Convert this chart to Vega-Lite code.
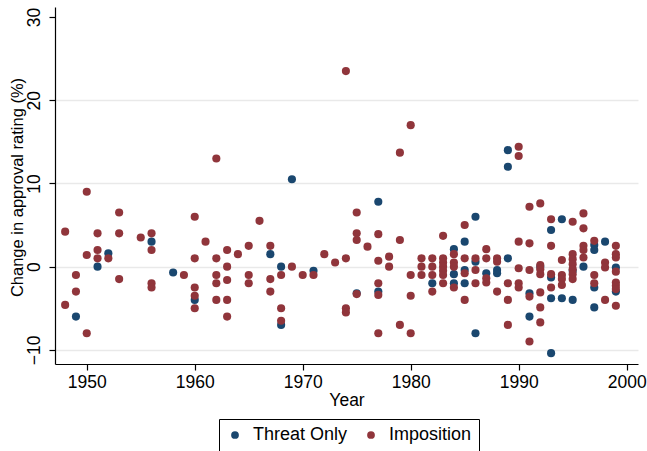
{
  "$schema": "https://vega.github.io/schema/vega-lite/v6.json",
  "width": 583,
  "height": 357,
  "autosize": {"type": "none"},
  "padding": {"left": 55, "top": 7, "right": 9, "bottom": 87},
  "background": "white",
  "config": {
    "view": {"stroke": null},
    "font": "Liberation Sans"
  },
  "data": {
    "values": [
      {"year": 1949, "change": -6, "type": "Threat Only"},
      {"year": 1951, "change": 0, "type": "Threat Only"},
      {"year": 1952, "change": 1.6, "type": "Threat Only"},
      {"year": 1956, "change": 3, "type": "Threat Only"},
      {"year": 1958, "change": -0.7, "type": "Threat Only"},
      {"year": 1960, "change": -4, "type": "Threat Only"},
      {"year": 1967, "change": 1.5, "type": "Threat Only"},
      {"year": 1968, "change": 0, "type": "Threat Only"},
      {"year": 1968, "change": -7, "type": "Threat Only"},
      {"year": 1969, "change": 10.5, "type": "Threat Only"},
      {"year": 1971, "change": -0.5, "type": "Threat Only"},
      {"year": 1975, "change": -3.2, "type": "Threat Only"},
      {"year": 1977, "change": 7.8, "type": "Threat Only"},
      {"year": 1977, "change": -3, "type": "Threat Only"},
      {"year": 1982, "change": -2, "type": "Threat Only"},
      {"year": 1984, "change": 2.1, "type": "Threat Only"},
      {"year": 1984, "change": -0.9, "type": "Threat Only"},
      {"year": 1984, "change": -2, "type": "Threat Only"},
      {"year": 1985, "change": 3, "type": "Threat Only"},
      {"year": 1985, "change": -0.4, "type": "Threat Only"},
      {"year": 1985, "change": -2, "type": "Threat Only"},
      {"year": 1986, "change": 6, "type": "Threat Only"},
      {"year": 1986, "change": 0.6, "type": "Threat Only"},
      {"year": 1986, "change": -8, "type": "Threat Only"},
      {"year": 1987, "change": -0.8, "type": "Threat Only"},
      {"year": 1988, "change": -0.4, "type": "Threat Only"},
      {"year": 1988, "change": -0.8, "type": "Threat Only"},
      {"year": 1989, "change": 14, "type": "Threat Only"},
      {"year": 1989, "change": 12, "type": "Threat Only"},
      {"year": 1989, "change": 1, "type": "Threat Only"},
      {"year": 1991, "change": -6, "type": "Threat Only"},
      {"year": 1991, "change": -3.2, "type": "Threat Only"},
      {"year": 1992, "change": 0, "type": "Threat Only"},
      {"year": 1993, "change": 4.4, "type": "Threat Only"},
      {"year": 1993, "change": -1.3, "type": "Threat Only"},
      {"year": 1993, "change": -3.8, "type": "Threat Only"},
      {"year": 1993, "change": -10.4, "type": "Threat Only"},
      {"year": 1994, "change": 5.7, "type": "Threat Only"},
      {"year": 1994, "change": -3.8, "type": "Threat Only"},
      {"year": 1995, "change": -0.5, "type": "Threat Only"},
      {"year": 1995, "change": -4, "type": "Threat Only"},
      {"year": 1996, "change": 0, "type": "Threat Only"},
      {"year": 1997, "change": 2.6, "type": "Threat Only"},
      {"year": 1997, "change": 2, "type": "Threat Only"},
      {"year": 1997, "change": -2.5, "type": "Threat Only"},
      {"year": 1997, "change": -4.9, "type": "Threat Only"},
      {"year": 1998, "change": 3, "type": "Threat Only"},
      {"year": 1999, "change": -0.1, "type": "Threat Only"},
      {"year": 1999, "change": -3, "type": "Threat Only"},

      {"year": 1948, "change": 4.2, "type": "Imposition"},
      {"year": 1948, "change": -4.6, "type": "Imposition"},
      {"year": 1949, "change": -1, "type": "Imposition"},
      {"year": 1949, "change": -3, "type": "Imposition"},
      {"year": 1950, "change": 9, "type": "Imposition"},
      {"year": 1950, "change": 1.4, "type": "Imposition"},
      {"year": 1950, "change": -8, "type": "Imposition"},
      {"year": 1951, "change": 4, "type": "Imposition"},
      {"year": 1951, "change": 2, "type": "Imposition"},
      {"year": 1951, "change": 1, "type": "Imposition"},
      {"year": 1952, "change": 1, "type": "Imposition"},
      {"year": 1953, "change": 6.5, "type": "Imposition"},
      {"year": 1953, "change": 4, "type": "Imposition"},
      {"year": 1953, "change": -1.5, "type": "Imposition"},
      {"year": 1955, "change": 3.5, "type": "Imposition"},
      {"year": 1956, "change": 4, "type": "Imposition"},
      {"year": 1956, "change": 2, "type": "Imposition"},
      {"year": 1956, "change": -2, "type": "Imposition"},
      {"year": 1956, "change": -2.5, "type": "Imposition"},
      {"year": 1959, "change": -1, "type": "Imposition"},
      {"year": 1960, "change": 6, "type": "Imposition"},
      {"year": 1960, "change": 1, "type": "Imposition"},
      {"year": 1960, "change": -2.5, "type": "Imposition"},
      {"year": 1960, "change": -3.5, "type": "Imposition"},
      {"year": 1960, "change": -5, "type": "Imposition"},
      {"year": 1961, "change": 3, "type": "Imposition"},
      {"year": 1962, "change": 13, "type": "Imposition"},
      {"year": 1962, "change": 1, "type": "Imposition"},
      {"year": 1962, "change": -1, "type": "Imposition"},
      {"year": 1962, "change": -2, "type": "Imposition"},
      {"year": 1962, "change": -4, "type": "Imposition"},
      {"year": 1963, "change": 2, "type": "Imposition"},
      {"year": 1963, "change": 0, "type": "Imposition"},
      {"year": 1963, "change": -1.6, "type": "Imposition"},
      {"year": 1963, "change": -4, "type": "Imposition"},
      {"year": 1963, "change": -6, "type": "Imposition"},
      {"year": 1964, "change": 1.5, "type": "Imposition"},
      {"year": 1965, "change": 2.5, "type": "Imposition"},
      {"year": 1965, "change": -1, "type": "Imposition"},
      {"year": 1965, "change": -2, "type": "Imposition"},
      {"year": 1966, "change": 5.5, "type": "Imposition"},
      {"year": 1967, "change": 2.5, "type": "Imposition"},
      {"year": 1967, "change": -1.5, "type": "Imposition"},
      {"year": 1967, "change": -3, "type": "Imposition"},
      {"year": 1968, "change": -1, "type": "Imposition"},
      {"year": 1968, "change": -5, "type": "Imposition"},
      {"year": 1968, "change": -6.5, "type": "Imposition"},
      {"year": 1969, "change": 0, "type": "Imposition"},
      {"year": 1970, "change": -1, "type": "Imposition"},
      {"year": 1971, "change": -1, "type": "Imposition"},
      {"year": 1972, "change": 1.5, "type": "Imposition"},
      {"year": 1973, "change": 0.5, "type": "Imposition"},
      {"year": 1974, "change": 23.5, "type": "Imposition"},
      {"year": 1974, "change": 1, "type": "Imposition"},
      {"year": 1974, "change": -5, "type": "Imposition"},
      {"year": 1974, "change": -5.5, "type": "Imposition"},
      {"year": 1975, "change": 6.5, "type": "Imposition"},
      {"year": 1975, "change": 4, "type": "Imposition"},
      {"year": 1975, "change": 3.2, "type": "Imposition"},
      {"year": 1975, "change": -3.3, "type": "Imposition"},
      {"year": 1976, "change": 2.4, "type": "Imposition"},
      {"year": 1977, "change": 3.9, "type": "Imposition"},
      {"year": 1977, "change": 0.7, "type": "Imposition"},
      {"year": 1977, "change": -2, "type": "Imposition"},
      {"year": 1977, "change": -3.4, "type": "Imposition"},
      {"year": 1977, "change": -8, "type": "Imposition"},
      {"year": 1978, "change": 1.2, "type": "Imposition"},
      {"year": 1978, "change": 0, "type": "Imposition"},
      {"year": 1979, "change": 13.7, "type": "Imposition"},
      {"year": 1979, "change": 3.2, "type": "Imposition"},
      {"year": 1979, "change": -7, "type": "Imposition"},
      {"year": 1980, "change": 17, "type": "Imposition"},
      {"year": 1980, "change": -1, "type": "Imposition"},
      {"year": 1980, "change": -3.5, "type": "Imposition"},
      {"year": 1980, "change": -8, "type": "Imposition"},
      {"year": 1981, "change": 1, "type": "Imposition"},
      {"year": 1981, "change": 0, "type": "Imposition"},
      {"year": 1981, "change": -1, "type": "Imposition"},
      {"year": 1982, "change": 1, "type": "Imposition"},
      {"year": 1982, "change": 0, "type": "Imposition"},
      {"year": 1982, "change": -1, "type": "Imposition"},
      {"year": 1982, "change": -3, "type": "Imposition"},
      {"year": 1983, "change": 3.7, "type": "Imposition"},
      {"year": 1983, "change": 1, "type": "Imposition"},
      {"year": 1983, "change": 0.5, "type": "Imposition"},
      {"year": 1983, "change": 0, "type": "Imposition"},
      {"year": 1983, "change": -0.5, "type": "Imposition"},
      {"year": 1983, "change": -1, "type": "Imposition"},
      {"year": 1983, "change": -2, "type": "Imposition"},
      {"year": 1984, "change": 1.5, "type": "Imposition"},
      {"year": 1984, "change": 0.5, "type": "Imposition"},
      {"year": 1984, "change": 0, "type": "Imposition"},
      {"year": 1984, "change": -2.5, "type": "Imposition"},
      {"year": 1985, "change": 5, "type": "Imposition"},
      {"year": 1985, "change": 1, "type": "Imposition"},
      {"year": 1985, "change": -0.8, "type": "Imposition"},
      {"year": 1985, "change": -4, "type": "Imposition"},
      {"year": 1986, "change": 1, "type": "Imposition"},
      {"year": 1986, "change": -0.4, "type": "Imposition"},
      {"year": 1986, "change": -2, "type": "Imposition"},
      {"year": 1987, "change": 2.1, "type": "Imposition"},
      {"year": 1987, "change": 1, "type": "Imposition"},
      {"year": 1987, "change": -1.4, "type": "Imposition"},
      {"year": 1987, "change": -1.9, "type": "Imposition"},
      {"year": 1988, "change": 1, "type": "Imposition"},
      {"year": 1988, "change": 0.6, "type": "Imposition"},
      {"year": 1988, "change": -3, "type": "Imposition"},
      {"year": 1989, "change": -2, "type": "Imposition"},
      {"year": 1989, "change": -4, "type": "Imposition"},
      {"year": 1989, "change": -7, "type": "Imposition"},
      {"year": 1990, "change": 14.4, "type": "Imposition"},
      {"year": 1990, "change": 13.3, "type": "Imposition"},
      {"year": 1990, "change": 3, "type": "Imposition"},
      {"year": 1990, "change": -0.2, "type": "Imposition"},
      {"year": 1990, "change": -2, "type": "Imposition"},
      {"year": 1990, "change": -2.5, "type": "Imposition"},
      {"year": 1991, "change": 7.2, "type": "Imposition"},
      {"year": 1991, "change": 2.8, "type": "Imposition"},
      {"year": 1991, "change": -0.4, "type": "Imposition"},
      {"year": 1991, "change": -3.6, "type": "Imposition"},
      {"year": 1991, "change": -9, "type": "Imposition"},
      {"year": 1992, "change": 7.6, "type": "Imposition"},
      {"year": 1992, "change": 0.2, "type": "Imposition"},
      {"year": 1992, "change": -0.3, "type": "Imposition"},
      {"year": 1992, "change": -0.9, "type": "Imposition"},
      {"year": 1992, "change": -3.1, "type": "Imposition"},
      {"year": 1992, "change": -4.9, "type": "Imposition"},
      {"year": 1992, "change": -6.7, "type": "Imposition"},
      {"year": 1993, "change": 5.7, "type": "Imposition"},
      {"year": 1993, "change": 2.5, "type": "Imposition"},
      {"year": 1993, "change": -0.9, "type": "Imposition"},
      {"year": 1993, "change": -2.5, "type": "Imposition"},
      {"year": 1994, "change": 0.8, "type": "Imposition"},
      {"year": 1994, "change": -1, "type": "Imposition"},
      {"year": 1994, "change": -1.5, "type": "Imposition"},
      {"year": 1994, "change": -2.2, "type": "Imposition"},
      {"year": 1995, "change": 5.4, "type": "Imposition"},
      {"year": 1995, "change": 1.5, "type": "Imposition"},
      {"year": 1995, "change": 0.9, "type": "Imposition"},
      {"year": 1995, "change": 0.3, "type": "Imposition"},
      {"year": 1995, "change": -0.3, "type": "Imposition"},
      {"year": 1995, "change": -0.9, "type": "Imposition"},
      {"year": 1995, "change": -1.5, "type": "Imposition"},
      {"year": 1996, "change": 6.4, "type": "Imposition"},
      {"year": 1996, "change": 4.6, "type": "Imposition"},
      {"year": 1996, "change": 2.5, "type": "Imposition"},
      {"year": 1996, "change": 2, "type": "Imposition"},
      {"year": 1996, "change": 1.1, "type": "Imposition"},
      {"year": 1997, "change": 3.1, "type": "Imposition"},
      {"year": 1997, "change": -1, "type": "Imposition"},
      {"year": 1997, "change": -2, "type": "Imposition"},
      {"year": 1998, "change": 0.5, "type": "Imposition"},
      {"year": 1998, "change": -0.1, "type": "Imposition"},
      {"year": 1998, "change": -4, "type": "Imposition"},
      {"year": 1999, "change": 2.5, "type": "Imposition"},
      {"year": 1999, "change": 1.5, "type": "Imposition"},
      {"year": 1999, "change": 1.1, "type": "Imposition"},
      {"year": 1999, "change": -0.6, "type": "Imposition"},
      {"year": 1999, "change": -1.9, "type": "Imposition"},
      {"year": 1999, "change": -2.3, "type": "Imposition"},
      {"year": 1999, "change": -2.7, "type": "Imposition"},
      {"year": 1999, "change": -4.7, "type": "Imposition"}
    ]
  },
  "mark": {"type": "point", "filled": true, "opacity": 1, "size": 66, "shape": "circle", "strokeWidth": 0},
  "encoding": {
    "x": {
      "field": "year",
      "type": "quantitative",
      "title": "Year",
      "scale": {"domain": [1947.06, 2001.05], "nice": false, "zero": false},
      "axis": {
        "values": [1950, 1960, 1970, 1980, 1990, 2000],
        "format": "d",
        "grid": false,
        "domainColor": "black",
        "domainWidth": 1.2,
        "tickColor": "black",
        "tickWidth": 1.2,
        "tickSize": 6,
        "labelFontSize": 17.5,
        "labelColor": "black",
        "labelPadding": 3,
        "titleFontSize": 17.5,
        "titleFontWeight": "normal",
        "titleColor": "black",
        "titlePadding": 1
      }
    },
    "y": {
      "field": "change",
      "type": "quantitative",
      "title": "Change in approval rating (%)",
      "scale": {"domain": [-11.7, 31.2], "nice": false, "zero": false},
      "axis": {
        "values": [-10, 0, 10, 20, 30],
        "grid": true,
        "gridColor": "#e9e9e9",
        "gridWidth": 1.3,
        "gridOpacity": {"condition": {"test": "datum.value == 30", "value": 0}, "value": 1},
        "domainColor": "black",
        "domainWidth": 1.2,
        "tickColor": "black",
        "tickWidth": 1.2,
        "tickSize": 6,
        "labelAngle": -90,
        "labelAlign": "center",
        "labelBaseline": "bottom",
        "labelFontSize": 17.5,
        "labelColor": "black",
        "labelPadding": 6,
        "titleFontSize": 16.5,
        "titleFontWeight": "normal",
        "titleColor": "black",
        "titleAngle": -90,
        "titleBaseline": "alphabetic",
        "titleAlign": "center",
        "titleX": -33,
        "titleY": 180
      }
    },
    "color": {
      "field": "type",
      "type": "nominal",
      "scale": {"domain": ["Threat Only", "Imposition"], "range": ["#1a476f", "#90353b"]},
      "legend": {
        "title": null,
        "orient": "none",
        "legendX": 164,
        "legendY": 412,
        "direction": "horizontal",
        "columns": 2,
        "strokeColor": "black",
        "fillColor": "white",
        "padding": 7,
        "labelFontSize": 18,
        "labelColor": "black",
        "labelOffset": 9,
        "columnPadding": 14,
        "symbolType": "circle",
        "symbolSize": 60,
        "symbolStrokeWidth": 0,
        "symbolOpacity": 1
      }
    }
  }
}
